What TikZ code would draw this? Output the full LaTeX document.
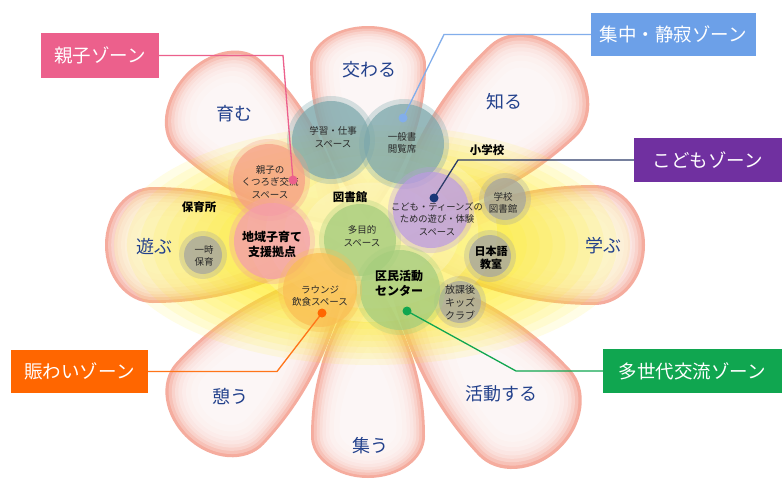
\documentclass[tikz,border=0pt]{standalone}
\usepackage{fontspec}
\setmainfont{Noto Sans CJK JP}
\definecolor{petalpink}{RGB}{245,172,158}
\definecolor{petalblue}{RGB}{35,65,140}
\definecolor{glow}{RGB}{255,238,30}
\definecolor{cream}{RGB}{255,252,225}
\definecolor{tealz}{RGB}{125,168,172}
\definecolor{salmonz}{RGB}{246,160,135}
\definecolor{pinkc}{RGB}{244,158,172}
\definecolor{greenc}{RGB}{165,205,125}
\definecolor{purplec}{RGB}{188,155,225}
\definecolor{grayc}{RGB}{165,165,160}
\definecolor{orangec}{RGB}{250,190,85}
\definecolor{boxpink}{RGB}{236,96,140}
\definecolor{boxblue}{RGB}{108,160,232}
\definecolor{boxpurple}{RGB}{112,48,160}
\definecolor{boxgreen}{RGB}{16,166,80}
\definecolor{boxorange}{RGB}{255,102,0}
\definecolor{navyline}{RGB}{45,60,105}
\definecolor{navydot}{RGB}{25,55,120}
\definecolor{txt}{RGB}{40,40,40}
% petal outline in local coordinates: length #1, half width #2
\newcommand\petalpath[2]{(0,0) .. controls (0.3*#1,0.75*#2) and (0.55*#1,#2) .. (0.8*#1,#2)
      .. controls (0.91*#1,#2) and (#1,0.55*#2) .. (#1,0)
      .. controls (#1,-0.55*#2) and (0.91*#1,-#2) .. (0.8*#1,-#2)
      .. controls (0.55*#1,-#2) and (0.3*#1,-0.75*#2) .. (0,0) -- cycle}
% base x, base y, angle, length, half width
\newcommand\petalshape[5]{%
  \begin{scope}[shift={(#1,#2)},rotate=#3]
    \fill[petalpink] \petalpath{#4}{#5};
    \foreach \s in {0.95,0.9,0.85,0.8,0.74,0.68,0.6,0.5}{
      \begin{scope}[scale around={\s:(0.74*#4,0)}]
      \fill[white,opacity=0.27] \petalpath{#4}{#5};
      \end{scope}
    }
  \end{scope}}
\newcommand\zonecirc[4]{%
  \fill[#4,opacity=0.3] (#1,#2) circle [radius={#3pt+5pt}];
  \fill[#4,opacity=0.72] (#1,#2) circle [radius=#3pt];}
\tikzset{
  petallabel/.style={text=petalblue,font=\fontsize{18}{20}\selectfont},
  zonebox/.style={text=white,font=\fontsize{18.5}{20}\selectfont,inner sep=0pt},
  smalltext/.style={text=txt,align=center,font=\fontsize{9.5}{12.5}\selectfont},
  boldtext/.style={text=black,align=center,font=\fontsize{11.5}{14.5}\selectfont\bfseries},
  zoneline/.style={line width=1.3pt},
}
\begin{document}
\begin{tikzpicture}[x=1pt,y=-1pt]
\useasboundingbox (0,0) rectangle (782,482);
\fill[white] (0,0) rectangle (782,482);
% petals
\petalshape{368}{220}{90}{194}{58}
\petalshape{350}{228}{137}{225}{62}
\petalshape{386}{228}{43}{251}{63}
\petalshape{343}{245}{180}{238}{58}
\petalshape{393}{245}{0}{252}{60}
\petalshape{351}{263}{-133}{240}{60}
\petalshape{385}{263}{-47}{255}{63}
\petalshape{368}{270}{-90}{208}{57}
% yellow glow
\foreach \s in {1.0,0.95,0.9,0.85,0.8,0.75,0.7,0.65,0.6,0.55,0.5,0.45,0.4,0.35}{
  \fill[glow,opacity=0.11] (372,245) ellipse [x radius={\s*258pt}, y radius={\s*120pt}];
}
\foreach \s in {1.0,0.85,0.7,0.55}{
  \fill[cream,opacity=0.25] (372,232) ellipse [x radius={\s*125pt}, y radius={\s*90pt}];
}
% zone circles
\zonecirc{331}{140}{39}{tealz}
\zonecirc{404}{144}{40}{tealz}
\zonecirc{269}{180}{36}{salmonz}
\zonecirc{272}{241}{38}{pinkc}
\zonecirc{360}{240}{36}{greenc}
\zonecirc{431}{210}{38}{purplec}
\zonecirc{505}{199}{21}{grayc}
\zonecirc{490}{256}{21}{grayc}
\zonecirc{460}{302}{21}{grayc}
\zonecirc{400}{290}{40}{greenc}
\zonecirc{320}{290}{37}{orangec}
\zonecirc{203}{255}{19}{grayc}
% petal labels
\node[petallabel] (l1) at (369,70) {交わる};
\node[petallabel] (l2) at (504,102) {知る};
\node[petallabel] (l3) at (603,246) {学ぶ};
\node[petallabel] (l4) at (501,394) {活動する};
\node[petallabel] (l5) at (370,446) {集う};
\node[petallabel] (l6) at (230,396) {憩う};
\node[petallabel] (l7) at (154,247) {遊ぶ};
\node[petallabel] (l8) at (234,114) {育む};
% circle texts
\node[smalltext] (t1) at (333,137) {学習・仕事\\スペース};
\node[smalltext] (t2) at (402,143) {一般書\\閲覧席};
\node[smalltext] (t3) at (270,182) {親子の\\くつろぎ交流\\スペース};
\node[boldtext,font=\fontsize{12}{15}\selectfont\bfseries] (t4) at (272,244) {地域子育て\\支援拠点};
\node[boldtext] (t5) at (350,197) {図書館};
\node[smalltext] (t6) at (362,236) {多目的\\スペース};
\node[smalltext,font=\fontsize{9.3}{12.5}\selectfont] (t7) at (437,219) {こども・ティーンズの\\ための遊び・体験\\スペース};
\node[boldtext] (t8) at (487,150) {小学校};
\node[smalltext] (t9) at (503,203) {学校\\図書館};
\node[boldtext,font=\fontsize{11}{13}\selectfont\bfseries] (t10) at (491,258) {日本語\\教室};
\node[boldtext,font=\fontsize{12}{15}\selectfont\bfseries] (t11) at (399,283) {区民活動\\センター};
\node[smalltext,font=\fontsize{10}{13}\selectfont] (t12) at (460,303) {放課後\\キッズ\\クラブ};
\node[smalltext] (t13) at (320,296) {ラウンジ\\飲食スペース};
\node[boldtext] (t14) at (199,207) {保育所};
\node[smalltext] (t15) at (204,256) {一時\\保育};
% zone boxes
\node[zonebox,fill=boxpink,minimum width=118pt,minimum height=45pt] (bA) at (100,55.5) {親子ゾーン};
\node[zonebox,fill=boxblue,minimum width=165pt,minimum height=43pt] (bB) at (673.5,34.5) {集中・静寂ゾーン};
\node[zonebox,fill=boxpurple,minimum width=148pt,minimum height=44pt] (bC) at (708,160) {こどもゾーン};
\node[zonebox,fill=boxgreen,minimum width=179pt,minimum height=44pt] (bD) at (692.5,371) {多世代交流ゾーン};
\node[zonebox,fill=boxorange,minimum width=137pt,minimum height=43pt] (bE) at (79.5,371.5) {賑わいゾーン};
% connectors
\coordinate (dA) at (293,180);
\coordinate (dB) at (403,118);
\coordinate (dC) at (434,198);
\coordinate (dD) at (407,311);
\coordinate (dE) at (322,313);
\coordinate (cA) at (283,55.5);
\coordinate (cB) at (444,34.5);
\coordinate (cC) at (458,160);
\coordinate (cD) at (516,371);
\coordinate (cE) at (277,371.5);
\draw[zoneline,boxpink] (bA.east) -- (cA) -- (dA);
\draw[zoneline,boxblue!85!white] (bB.west) -- (cB) -- (dB);
\draw[zoneline,navyline] (bC.west) -- (cC) -- (dC);
\draw[zoneline,boxgreen] (bD.west) -- (cD) -- (dD);
\draw[zoneline,boxorange!90!white] (bE.east) -- (cE) -- (dE);
\fill[boxpink] (dA) circle [radius=4.5pt];
\fill[boxblue!85!white] (dB) circle [radius=4.5pt];
\fill[navydot] (dC) circle [radius=4.5pt];
\fill[boxgreen] (dD) circle [radius=4.5pt];
\fill[boxorange] (dE) circle [radius=4.5pt];
\end{tikzpicture}
\end{document}
